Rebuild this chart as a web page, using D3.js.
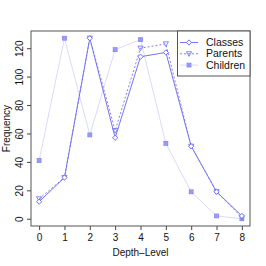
<!DOCTYPE html>
<html>
<head>
<meta charset="utf-8">
<script src="https://cdn.jsdelivr.net/npm/d3@7"></script>
<style>
  body { margin: 0; background: white; }
  svg { display: block; font-family: "Liberation Sans", Arial, sans-serif; }
</style>
</head>
<body>
<div id="chart"></div>
<script>
const depth = [0, 1, 2, 3, 4, 5, 6, 7, 8];
const classes = [12, 29, 127, 57, 114, 117, 51, 19, 2];
const parents = [14, 29, 127, 62, 120, 123, 51, 19, 1];
const children = [41, 127, 59, 119, 126, 53, 19, 2, 0];
const yTicks = [0, 20, 40, 60, 80, 100, 120];
const seriesNames = ["Classes", "Parents", "Children"];

const width = 266;
const height = 266;
const box = {left: 31, right: 250, top: 31, bottom: 226};

const svg = d3.select("#chart")
  .append("svg")
  .attr("width", width)
  .attr("height", height);

// R style 4% padding on both axes
const x = d3.scaleLinear()
  .domain([-0.32, 8.32])
  .range([box.left, box.right]);
const y = d3.scaleLinear()
  .domain([-127 * 0.04, 127 * 1.04])
  .range([box.bottom, box.top]);

const xAxis = svg.append("g")
  .attr("transform", `translate(0, ${box.bottom})`)
  .call(d3.axisBottom(x).tickValues(depth).tickSize(4).tickPadding(4).tickFormat(d3.format("d")));
xAxis.select(".domain").remove();
xAxis.selectAll("line").attr("stroke", "#444");
xAxis.selectAll("text").attr("font-size", 10).attr("fill", "#111");

const yAxis = svg.append("g")
  .attr("transform", `translate(${box.left}, 0)`)
  .call(d3.axisLeft(y).tickValues(yTicks).tickSize(4).tickPadding(0));
yAxis.select(".domain").remove();
yAxis.selectAll("line").attr("stroke", "#444");
yAxis.selectAll("text")
  .attr("font-size", 10)
  .attr("fill", "#111")
  .attr("text-anchor", "middle")
  .attr("x", 0)
  .attr("dy", 0)
  .attr("transform", "translate(-8, 0) rotate(-90)");

svg.append("rect")
  .attr("x", box.left)
  .attr("y", box.top)
  .attr("width", box.right - box.left)
  .attr("height", box.bottom - box.top)
  .attr("fill", "none")
  .attr("stroke", "#555")
  .attr("stroke-width", 1);

svg.append("text")
  .attr("x", (box.left + box.right) / 2)
  .attr("y", 256)
  .attr("text-anchor", "middle")
  .attr("font-size", 10)
  .attr("fill", "#111")
  .text("Depth\u2013Level");

svg.append("text")
  .attr("transform", `translate(10, ${(box.top + box.bottom) / 2}) rotate(-90)`)
  .attr("text-anchor", "middle")
  .attr("font-size", 10)
  .attr("fill", "#111")
  .text("Frequency");

const styles = [
  {line: "#7575f2", dash: null, width: 1, marker: "#7070f2", shape: "diamond"},
  {line: "#8282f2", dash: "2,2", width: 1, marker: "#7a7af2", shape: "tri"},
  {line: "#dadaff", dash: null, width: 1, marker: "#8585f4", shape: "boxx"}
];
const allSeries = [classes, parents, children];

const line = d3.line()
  .x((d, i) => x(depth[i]))
  .y(d => y(d));

function drawMarker(g, shape, cx, cy, color) {
  const s = 2.6;
  if (shape === "diamond") {
    g.append("path")
      .attr("d", `M${cx},${cy - s}L${cx + s},${cy}L${cx},${cy + s}L${cx - s},${cy}Z`)
      .attr("fill", "white").attr("stroke", color).attr("stroke-width", 1);
  } else if (shape === "tri") {
    g.append("path")
      .attr("d", `M${cx - s},${cy - s * 0.8}L${cx + s},${cy - s * 0.8}L${cx},${cy + s}Z`)
      .attr("fill", "none").attr("stroke", color).attr("stroke-width", 0.9);
  } else {
    const h = 1.9;
    g.append("rect")
      .attr("x", cx - h).attr("y", cy - h).attr("width", 2 * h).attr("height", 2 * h)
      .attr("fill", "#b0b0f8").attr("stroke", color).attr("stroke-width", 0.9);
    g.append("path")
      .attr("d", `M${cx - h},${cy - h}L${cx + h},${cy + h}M${cx + h},${cy - h}L${cx - h},${cy + h}`)
      .attr("stroke", color).attr("stroke-width", 0.7);
  }
}

// draw children first so the stronger lines sit on top
[2, 1, 0].forEach(k => {
  const st = styles[k];
  const g = svg.append("g");
  g.append("path")
    .datum(allSeries[k])
    .attr("d", line)
    .attr("fill", "none")
    .attr("stroke", st.line)
    .attr("stroke-width", st.width)
    .attr("stroke-dasharray", st.dash);
  allSeries[k].forEach((v, i) => drawMarker(g, st.shape, x(depth[i]), y(v), st.marker));
});

// legend
const legend = svg.append("g");
legend.append("rect")
  .attr("x", 177.5).attr("y", box.top)
  .attr("width", box.right - 177.5).attr("height", 45)
  .attr("fill", "white").attr("stroke", "#555");
seriesNames.forEach((name, k) => {
  const st = styles[k];
  const ly = 42.5 + k * 11.3;
  legend.append("line")
    .attr("x1", 180).attr("x2", 198).attr("y1", ly).attr("y2", ly)
    .attr("stroke", st.line).attr("stroke-dasharray", st.dash);
  drawMarker(legend, st.shape, 189, ly, st.marker);
  legend.append("text")
    .attr("x", 206).attr("y", ly + 3.6)
    .attr("font-size", 10.5)
    .attr("fill", "#111")
    .text(name);
});
</script>
</body>
</html>
